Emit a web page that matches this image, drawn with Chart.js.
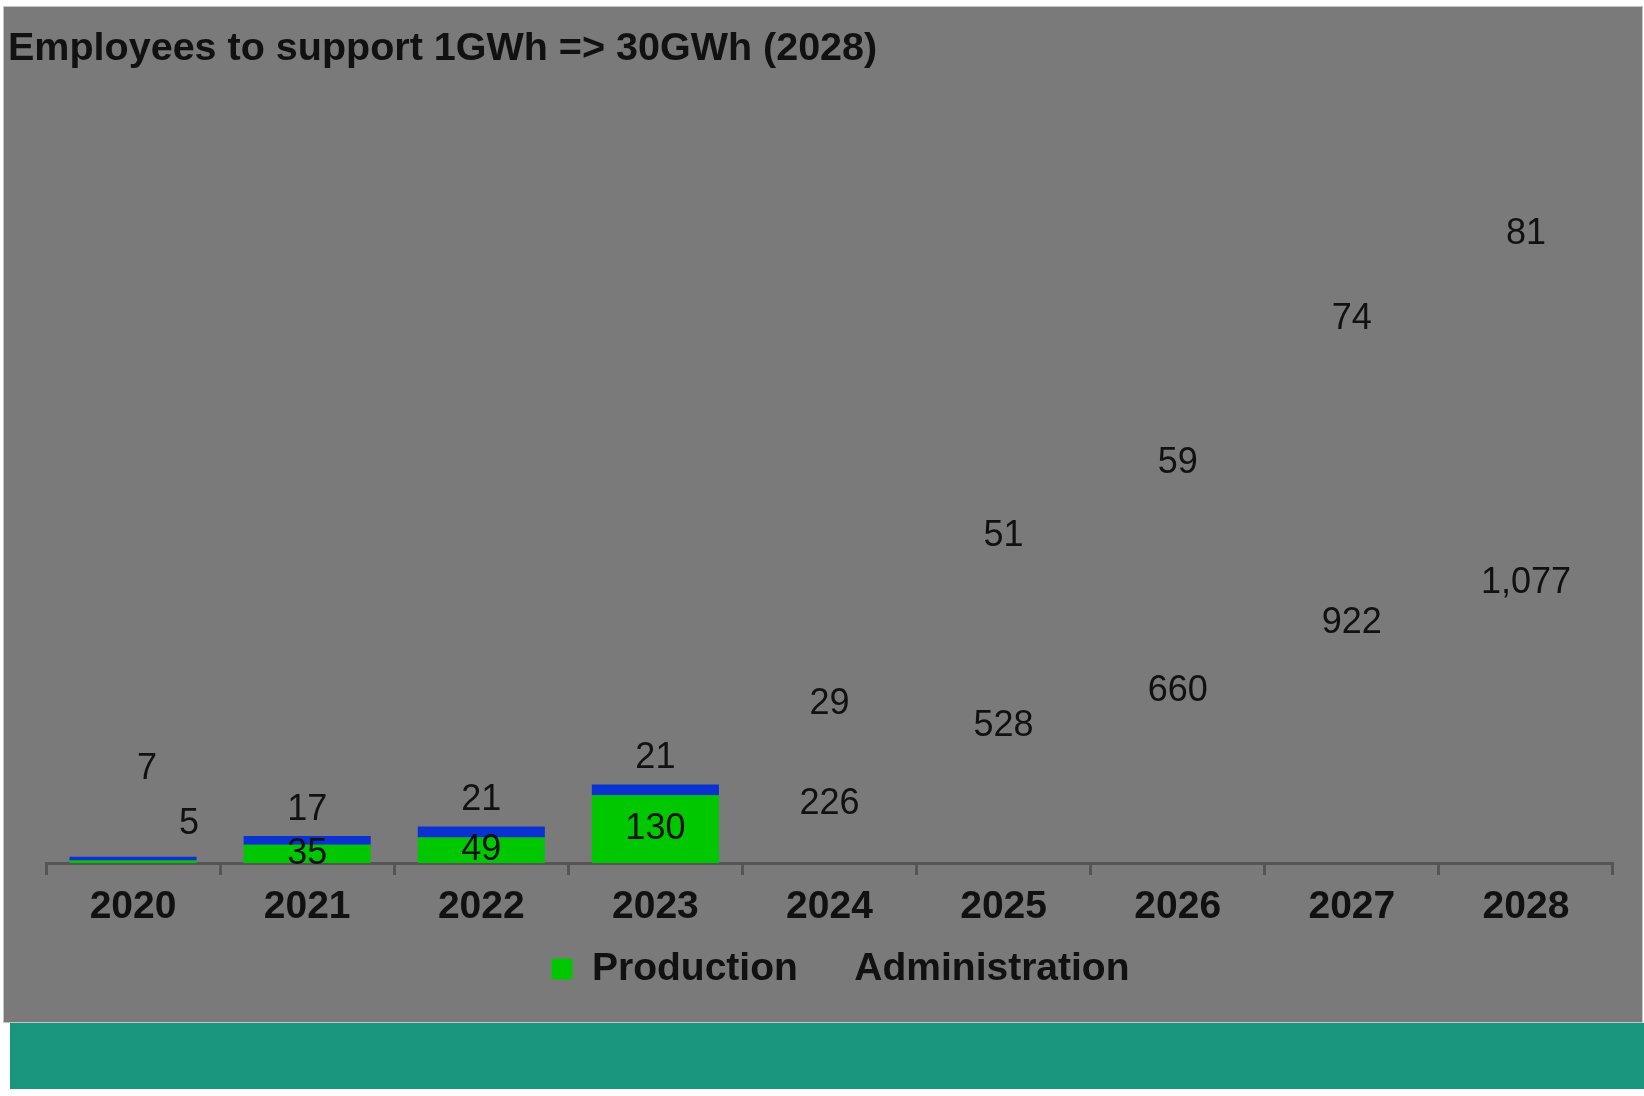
<!DOCTYPE html>
<html>
<head>
<meta charset="utf-8">
<script src="https://cdn.jsdelivr.net/npm/chart.js@4"></script>
<style>
  body { margin: 0; background: #fff; }
  #paneel {
    position: absolute; left: 3px; top: 6px;
    width: 1638px; height: 1015px;
    background: #7a7a7a; border: 1px solid #c4c4c4;
  }
  #balk {
    position: absolute; left: 10px; top: 1023px;
    width: 1634px; height: 66px; background: #1a957e;
  }
</style>
</head>
<body>
<div id="paneel"><canvas id="myChart" width="1638" height="1015"></canvas></div>
<div id="balk"></div>
<script>
var jaren = ['2020', '2021', '2022', '2023', '2024', '2025', '2026', '2027', '2028'];
var productie = [5, 35, 49, 130, 226, 528, 660, 922, 1077];
var administratie = [7, 17, 21, 21, 29, 51, 59, 74, 81];

var groen = '#00c800';
var blauw = '#0a32d0';
var leeg = 'rgba(0,0,0,0)';

// alleen de jaren t/m 2023 krijgen een gekleurde balk
function kleur(c, k) {
    return c.dataIndex < 4 ? k : leeg;
}

// labels: productie in het midden, administratie boven de stapel
var labelsPlugin = {
    id: 'waardes',
    afterDatasetsDraw: function(chart) {
        var ctx = chart.ctx;
        ctx.save();
        ctx.font = '36px "Liberation Sans", Arial, sans-serif';
        ctx.fillStyle = '#111';
        ctx.textAlign = 'center';
        ctx.textBaseline = 'middle';
        chart.data.datasets.forEach(function(ds, d) {
            chart.getDatasetMeta(d).data.forEach(function(bar, i) {
                var tekst = ds.data[i].toLocaleString('en-US');
                var x = bar.x;
                var y;
                if (d === 0) {
                    y = (bar.y + bar.base) / 2;
                    if (i === 0) { x += 56; y -= 38; }
                } else {
                    y = bar.y - 26;
                    if (i === 0) { x += 14; y -= 62; }
                }
                ctx.fillText(tekst, x, y);
            });
        });
        ctx.restore();
    }
};

// legenda iets naar rechts zoals in het origineel
var legendaSchuif = {
    id: 'legendaSchuif',
    afterLayout: function(chart) {
        chart.legend.left += 30;
        chart.legend.right += 30;
    }
};

var tekenen = document.getElementById('myChart').getContext('2d');
var chart = new Chart(tekenen, {
    type: 'bar',
    data: {
        labels: jaren,
        datasets: [{
            label: 'Production',
            data: productie,
            backgroundColor: function(c) { return kleur(c, groen); },
            barPercentage: 0.73,
            categoryPercentage: 1
        }, {
            label: 'Administration',
            data: administratie,
            backgroundColor: function(c) { return kleur(c, blauw); },
            barPercentage: 0.73,
            categoryPercentage: 1
        }]
    },
    options: {
        responsive: false,
        animation: false,
        devicePixelRatio: 1,
        layout: {
            padding: { top: 0, left: 4, right: 29, bottom: 23.5 }
        },
        scales: {
            x: {
                stacked: true,
                grid: {
                    offset: true,
                    drawOnChartArea: false,
                    drawTicks: true,
                    tickLength: 12,
                    tickWidth: 3,
                    tickColor: '#555'
                },
                border: { display: true, color: '#555', width: 3 },
                ticks: {
                    padding: 9,
                    color: '#111',
                    font: { family: '"Liberation Sans", Arial, sans-serif', size: 39, weight: 'bold' }
                },
                afterFit: function(s) { s.height = 70.5; }
            },
            y: {
                stacked: true,
                min: 0,
                max: 1500,
                ticks: { display: false },
                grid: { display: false, drawTicks: false },
                border: { display: false },
                afterFit: function(s) { s.width = 38; }
            }
        },
        plugins: {
            title: {
                display: true,
                text: 'Employees to support 1GWh => 30GWh (2028)',
                align: 'start',
                color: '#111',
                padding: { top: 18, bottom: 10 },
                font: { family: '"Liberation Sans", Arial, sans-serif', size: 39.5, weight: 'bold' }
            },
            legend: {
                position: 'bottom',
                labels: {
                    boxWidth: 21,
                    boxHeight: 21,
                    padding: 16,
                    color: '#111',
                    font: { family: '"Liberation Sans", Arial, sans-serif', size: 39, weight: 'bold' },
                    generateLabels: function(chart) {
                        return chart.data.datasets.map(function(ds, i) {
                            return {
                                text: ds.label,
                                fillStyle: i === 0 ? groen : leeg,
                                strokeStyle: leeg,
                                lineWidth: 0,
                                fontColor: '#111',
                                hidden: false,
                                datasetIndex: i
                            };
                        });
                    }
                }
            },
            tooltip: { enabled: false }
        }
    },
    plugins: [labelsPlugin, legendaSchuif]
});
</script>
</body>
</html>
